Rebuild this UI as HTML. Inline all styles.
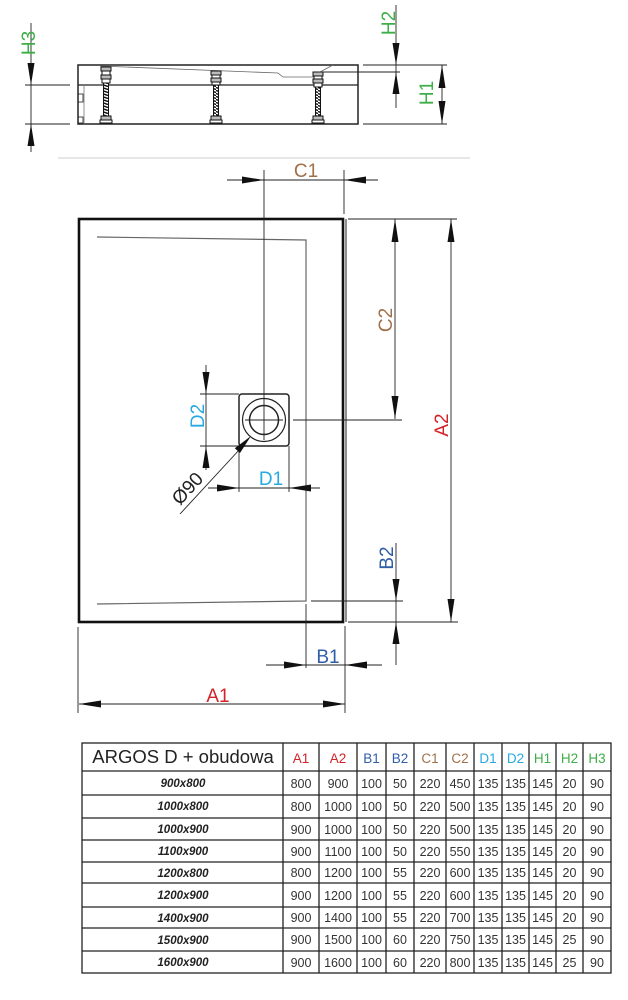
<!DOCTYPE html>
<html><head><meta charset="utf-8"><style>
html,body{margin:0;padding:0;background:#fff;}
svg{display:block;}
text{font-family:"Liberation Sans",sans-serif;}
</style></head><body>
<svg width="628" height="1000" viewBox="0 0 628 1000" xmlns="http://www.w3.org/2000/svg">
<defs>
<pattern id="thr" width="6" height="3" patternUnits="userSpaceOnUse">
<rect width="6" height="3" fill="#fff"/>
<line x1="0" y1="0.5" x2="6" y2="2.5" stroke="#111" stroke-width="1.5"/>
</pattern>
</defs>
<rect width="628" height="1000" fill="#fff"/>

<!-- ===== SIDE VIEW ===== -->
<g stroke="#222" fill="none">
<rect x="78" y="65" width="280" height="59" stroke-width="1.5"/>
<line x1="78" y1="85" x2="358" y2="85" stroke-width="1.3"/>
<line x1="84" y1="86" x2="84" y2="124" stroke="#777" stroke-width="0.8"/>
<rect x="78" y="94" width="5" height="8" stroke-width="0.8"/>
<rect x="78" y="117" width="5" height="6" stroke-width="0.8"/>
<polyline points="100,66 278,73 283,77 313,77 320,72 333,65" stroke="#666" stroke-width="0.8"/>
</g>
<!-- rods -->
<g stroke="#111" stroke-width="1">
<g>
<rect x="103.5" y="83" width="5" height="34" fill="url(#thr)"/>
<rect x="101" y="67" width="10" height="4" fill="#bbb"/><rect x="102" y="71" width="8" height="4" fill="#fff"/><rect x="101" y="75" width="10" height="4" fill="#bbb"/><rect x="102" y="79" width="8" height="4" fill="#fff"/>
<rect x="101" y="116" width="10" height="4" fill="#bbb"/><rect x="100" y="120" width="12" height="3" fill="#fff"/>
</g>
<g>
<rect x="213.5" y="85" width="5" height="32" fill="url(#thr)"/>
<rect x="211" y="71" width="10" height="4" fill="#bbb"/><rect x="212" y="75" width="8" height="3" fill="#fff"/><rect x="211" y="78" width="10" height="4" fill="#bbb"/><rect x="212" y="82" width="8" height="3" fill="#fff"/>
<rect x="211" y="116" width="10" height="4" fill="#bbb"/><rect x="210" y="120" width="12" height="3" fill="#fff"/>
</g>
<g>
<rect x="315.5" y="87" width="5" height="30" fill="url(#thr)"/>
<rect x="313" y="72" width="10" height="4" fill="#bbb"/><rect x="314" y="76" width="8" height="3" fill="#fff"/><rect x="313" y="79" width="10" height="4" fill="#bbb"/><rect x="314" y="83" width="8" height="4" fill="#fff"/>
<rect x="313" y="116" width="10" height="4" fill="#bbb"/><rect x="312" y="120" width="12" height="3" fill="#fff"/>
</g>
</g>
<!-- H dims -->
<g stroke="#222" stroke-width="0.9" fill="none">
<line x1="31" y1="23" x2="31" y2="152"/>
<line x1="25" y1="85" x2="70" y2="85"/>
<line x1="25" y1="124" x2="70" y2="124"/>
<line x1="396" y1="5" x2="396" y2="108"/>
<line x1="363" y1="65" x2="447" y2="65"/>
<line x1="318" y1="72" x2="400" y2="72"/>
<line x1="363" y1="124" x2="447" y2="124"/>
<line x1="442" y1="65" x2="442" y2="124"/>
</g>
<g fill="#111">
<polygon points="31,85 27.5,63 34.5,63"/>
<polygon points="31,124 27.5,146 34.5,146"/>
<polygon points="396,65 392.5,43 399.5,43"/>
<polygon points="396,72 392.5,94 399.5,94"/>
<polygon points="442,65 438.5,88 445.5,88"/>
<polygon points="442,124 438.5,101 445.5,101"/>
</g>
<g fill="#3fae49" font-size="19">
<text transform="translate(35,43) rotate(-90)" text-anchor="middle">H3</text>
<text transform="translate(395,23) rotate(-90)" text-anchor="middle">H2</text>
<text transform="translate(433,93) rotate(-90)" text-anchor="middle">H1</text>
</g>

<line x1="58" y1="158" x2="470" y2="158" stroke="#ccc" stroke-width="1"/>

<!-- ===== PLAN VIEW ===== -->
<rect x="79" y="219" width="264" height="403" fill="none" stroke="#111" stroke-width="2.6"/>
<line x1="346" y1="219" x2="346" y2="622" stroke="#222" stroke-width="1"/>
<g stroke="#666" stroke-width="1.2" fill="none">
<polyline points="97,237 306,240 306,601 97,604"/>
</g>

<!-- drain -->
<rect x="239" y="394" width="50" height="52" rx="3" fill="none" stroke="#222" stroke-width="1.5"/>
<circle cx="264" cy="420" r="21.5" fill="none" stroke="#222" stroke-width="1.2"/>
<circle cx="264" cy="420" r="14.5" fill="none" stroke="#222" stroke-width="1.5"/>

<g stroke="#222" stroke-width="0.9" fill="none">
<line x1="227" y1="180" x2="378" y2="180"/>
<line x1="264" y1="170" x2="264" y2="440"/>
<line x1="344" y1="170" x2="344" y2="214"/>
<line x1="395" y1="219" x2="395" y2="419"/>
<line x1="348" y1="219" x2="457" y2="219"/>
<line x1="245" y1="420" x2="283" y2="420"/>
<line x1="293" y1="420" x2="402" y2="420"/>
<line x1="451" y1="219" x2="451" y2="622"/>
<line x1="348" y1="622" x2="458" y2="622"/>
<line x1="206" y1="365" x2="206" y2="470"/>
<line x1="200" y1="394" x2="239" y2="394"/>
<line x1="200" y1="446" x2="239" y2="446"/>
<line x1="208" y1="488" x2="320" y2="488"/>
<line x1="239" y1="446" x2="239" y2="492"/>
<line x1="289" y1="446" x2="289" y2="492"/>
<line x1="180" y1="514" x2="240" y2="449"/>
<line x1="396" y1="543" x2="396" y2="665"/>
<line x1="311" y1="601" x2="403" y2="601"/>
<line x1="266" y1="665" x2="382" y2="665"/>
<line x1="306" y1="604" x2="306" y2="668"/>
<line x1="345" y1="626" x2="345" y2="713"/>
<line x1="79" y1="704" x2="345" y2="704"/>
<line x1="78" y1="627" x2="78" y2="713"/>
</g>
<g fill="#111">
<polygon points="264,180 242,176.5 242,183.5"/>
<polygon points="344,180 366,176.5 366,183.5"/>
<polygon points="395,219 391.5,242 398.5,242"/>
<polygon points="395,419 391.5,396 398.5,396"/>
<polygon points="451,219 447.5,242 454.5,242"/>
<polygon points="451,622 447.5,599 454.5,599"/>
<polygon points="206,394 202.5,372 209.5,372"/>
<polygon points="206,446 202.5,468 209.5,468"/>
<polygon points="239,488 217,484.5 217,491.5"/>
<polygon points="289,488 311,484.5 311,491.5"/>
<polygon points="251,436 240,453 234.8,448.3"/>
<polygon points="396,601 392.5,579 399.5,579"/>
<polygon points="396,622 392.5,644 399.5,644"/>
<polygon points="306,665 284,661.5 284,668.5"/>
<polygon points="345,665 367,661.5 367,668.5"/>
<polygon points="79,704 101,700.5 101,707.5"/>
<polygon points="345,704 323,700.5 323,707.5"/>
</g>
<g font-size="19">
<text x="306" y="177" text-anchor="middle" fill="#a0704a">C1</text>
<text transform="translate(392,320) rotate(-90)" text-anchor="middle" fill="#a0704a">C2</text>
<text transform="translate(448,425) rotate(-90)" text-anchor="middle" fill="#d2232a">A2</text>
<text transform="translate(204,416) rotate(-90)" text-anchor="middle" fill="#27a9e1">D2</text>
<text x="271" y="485" text-anchor="middle" fill="#27a9e1">D1</text>
<text transform="translate(393,558) rotate(-90)" text-anchor="middle" fill="#2f5ea8">B2</text>
<text x="328" y="663" text-anchor="middle" fill="#2f5ea8">B1</text>
<text x="218" y="702" text-anchor="middle" fill="#d2232a">A1</text>
<text transform="translate(180,506) rotate(-47.5)" fill="#222">Ø90</text>
</g>

<!-- ===== TABLE ===== -->
<g stroke="#222" stroke-width="1.3" fill="none">
<rect x="82" y="743" width="529" height="230"/>
<line x1="82" y1="771" x2="611" y2="771"/>
<line x1="82" y1="795" x2="611" y2="795"/>
<line x1="82" y1="818" x2="611" y2="818"/>
<line x1="82" y1="840" x2="611" y2="840"/>
<line x1="82" y1="862" x2="611" y2="862"/>
<line x1="82" y1="883" x2="611" y2="883"/>
<line x1="82" y1="907" x2="611" y2="907"/>
<line x1="82" y1="928" x2="611" y2="928"/>
<line x1="82" y1="951" x2="611" y2="951"/>
<line x1="283" y1="743" x2="283" y2="973"/>
<line x1="319" y1="743" x2="319" y2="973"/>
<line x1="357" y1="743" x2="357" y2="973"/>
<line x1="386" y1="743" x2="386" y2="973"/>
<line x1="414" y1="743" x2="414" y2="973"/>
<line x1="446" y1="743" x2="446" y2="973"/>
<line x1="474" y1="743" x2="474" y2="973"/>
<line x1="502" y1="743" x2="502" y2="973"/>
<line x1="529" y1="743" x2="529" y2="973"/>
<line x1="556" y1="743" x2="556" y2="973"/>
<line x1="583" y1="743" x2="583" y2="973"/>
</g>
<text x="183" y="763" text-anchor="middle" font-size="18.5" fill="#222">ARGOS D + obudowa</text>
<g font-size="13.5" text-anchor="middle">
<text x="301" y="763" fill="#d2232a">A1</text>
<text x="338" y="763" fill="#d2232a">A2</text>
<text x="371.5" y="763" fill="#2f5ea8">B1</text>
<text x="400" y="763" fill="#2f5ea8">B2</text>
<text x="430" y="763" fill="#a0704a">C1</text>
<text x="460" y="763" fill="#a0704a">C2</text>
<text x="488" y="763" fill="#27a9e1">D1</text>
<text x="515.5" y="763" fill="#27a9e1">D2</text>
<text x="542.5" y="763" fill="#3fae49">H1</text>
<text x="569.5" y="763" fill="#3fae49">H2</text>
<text x="597" y="763" fill="#3fae49">H3</text>
</g>
<g font-size="11.5" font-weight="bold" font-style="italic" text-anchor="middle" fill="#222">
<text x="183" y="787">900x800</text>
<text x="183" y="810">1000x800</text>
<text x="183" y="833">1000x900</text>
<text x="183" y="855">1100x900</text>
<text x="183" y="877">1200x800</text>
<text x="183" y="899">1200x900</text>
<text x="183" y="922">1400x900</text>
<text x="183" y="944">1500x900</text>
<text x="183" y="966">1600x900</text>
</g>
<g font-size="12.5" text-anchor="middle" fill="#333">
<g transform="translate(0,788)"><text x="301">800</text><text x="338">900</text><text x="371.5">100</text><text x="400">50</text><text x="430">220</text><text x="460">450</text><text x="488">135</text><text x="515.5">135</text><text x="542.5">145</text><text x="569.5">20</text><text x="597">90</text></g>
<g transform="translate(0,811)"><text x="301">800</text><text x="338">1000</text><text x="371.5">100</text><text x="400">50</text><text x="430">220</text><text x="460">500</text><text x="488">135</text><text x="515.5">135</text><text x="542.5">145</text><text x="569.5">20</text><text x="597">90</text></g>
<g transform="translate(0,834)"><text x="301">900</text><text x="338">1000</text><text x="371.5">100</text><text x="400">50</text><text x="430">220</text><text x="460">500</text><text x="488">135</text><text x="515.5">135</text><text x="542.5">145</text><text x="569.5">20</text><text x="597">90</text></g>
<g transform="translate(0,856)"><text x="301">900</text><text x="338">1100</text><text x="371.5">100</text><text x="400">50</text><text x="430">220</text><text x="460">550</text><text x="488">135</text><text x="515.5">135</text><text x="542.5">145</text><text x="569.5">20</text><text x="597">90</text></g>
<g transform="translate(0,877)"><text x="301">800</text><text x="338">1200</text><text x="371.5">100</text><text x="400">55</text><text x="430">220</text><text x="460">600</text><text x="488">135</text><text x="515.5">135</text><text x="542.5">145</text><text x="569.5">20</text><text x="597">90</text></g>
<g transform="translate(0,900)"><text x="301">900</text><text x="338">1200</text><text x="371.5">100</text><text x="400">55</text><text x="430">220</text><text x="460">600</text><text x="488">135</text><text x="515.5">135</text><text x="542.5">145</text><text x="569.5">20</text><text x="597">90</text></g>
<g transform="translate(0,922)"><text x="301">900</text><text x="338">1400</text><text x="371.5">100</text><text x="400">55</text><text x="430">220</text><text x="460">700</text><text x="488">135</text><text x="515.5">135</text><text x="542.5">145</text><text x="569.5">20</text><text x="597">90</text></g>
<g transform="translate(0,944)"><text x="301">900</text><text x="338">1500</text><text x="371.5">100</text><text x="400">60</text><text x="430">220</text><text x="460">750</text><text x="488">135</text><text x="515.5">135</text><text x="542.5">145</text><text x="569.5">25</text><text x="597">90</text></g>
<g transform="translate(0,967)"><text x="301">900</text><text x="338">1600</text><text x="371.5">100</text><text x="400">60</text><text x="430">220</text><text x="460">800</text><text x="488">135</text><text x="515.5">135</text><text x="542.5">145</text><text x="569.5">25</text><text x="597">90</text></g>
</g>
</svg>
</body></html>
